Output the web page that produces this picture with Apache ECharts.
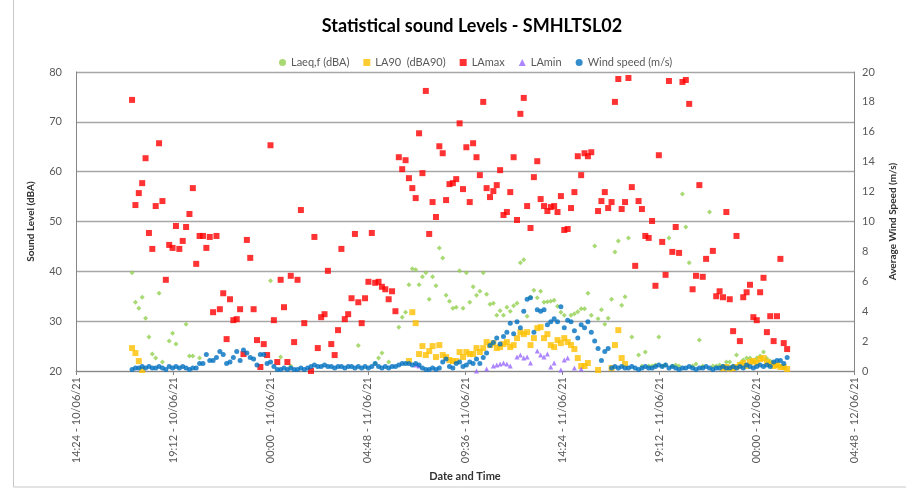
<!DOCTYPE html>
<html><head><meta charset="utf-8">
<script src="https://cdn.jsdelivr.net/npm/echarts@6/dist/echarts.min.js"></script>
<style>html,body{margin:0;padding:0;background:#fff}#c{width:906px;height:489px}</style>
</head><body><div id="c"></div>
<script>
const _ = null;
// sampling grid: first reading 17:10 on 10/06/21, every 10 minutes
const firstReading = [2021, 5, 10, 17, 10];
const stepMinutes = 10;
// x axis runs 14:24 10/06/21 -> 04:48 12/06/21, tick every 4h48
const axisStart = [2021, 5, 10, 14, 24];
const axisSpanHours = 38.4;
const axisTickHours = 4.8;

const seriesNames = ['Laeq,f (dBA)', 'LA90  (dBA90)', 'LAmax', 'LAmin', 'Wind speed (m/s)'];

const laeq = [
39.7,33.8,32.6,34.8,30.6,26.8,23.4,22.6,35.6,21.8,
_,26.0,27.6,25.4,_,_,29.4,23.0,23.0,_,
22.6,_,_,_,_,_,_,_,_,_,
_,_,_,_,_,_,_,_,_,_,
_,38.1,_,_,22.8,_,_,21.0,_,_,
_,_,_,_,_,_,_,_,_,_,
_,_,_,_,_,_,_,25.1,_,_,
_,_,21.5,22.6,23.6,_,21.8,_,_,28.8,
30.8,31.8,37.3,40.5,40.3,37.3,38.9,39.7,34.4,38.9,
37.1,44.7,42.7,35.2,34.0,32.6,32.8,40.1,32.6,39.7,
33.8,36.9,35.2,36.0,39.7,35.4,33.4,33.6,31.2,32.1,
31.2,32.8,32.0,33.1,33.6,41.7,42.3,31.0,34.8,36.2,
34.7,36.0,33.8,33.9,34.0,34.2,33.0,31.8,31.2,_,
31.2,31.5,31.9,32.5,32.5,35.6,31.2,45.1,30.5,32.3,
29.4,30.6,34.4,43.9,46.1,33.2,34.9,46.7,26.8,_,
23.2,21.0,23.8,21.0,21.0,21.2,26.8,21.0,21.2,46.7,
21.0,21.2,21.0,55.5,48.9,41.7,21.0,21.4,26.2,21.0,
_,51.9,21.0,21.0,21.2,21.0,21.8,21.8,21.0,23.2,
21.5,22.2,22.6,22.6,22.0,22.6,23.0,23.8,22.5,22.0,
21.5,21.2,21.0,20.6
];

const la90 = [
24.6,23.6,22.0,20.2,_,_,_,_,_,_,
_,_,_,_,_,_,_,_,_,_,
_,_,_,_,_,_,_,_,_,_,
_,_,_,_,_,_,_,_,_,_,
_,_,_,_,_,_,_,_,_,_,
_,_,_,_,_,_,_,_,_,_,
_,_,_,_,_,_,_,_,_,_,
_,_,_,_,_,_,_,_,_,_,
_,_,22.0,31.8,29.6,23.4,25.0,23.2,24.0,25.0,
22.8,25.2,23.2,22.8,22.2,22.0,22.0,23.8,22.8,23.8,
23.4,23.4,24.6,23.8,24.6,25.8,25.2,25.6,24.6,24.8,
25.4,25.8,24.8,25.2,26.6,27.8,27.4,27.8,25.2,26.6,
28.6,28.8,26.6,27.4,25.2,24.8,26.2,25.6,26.6,25.8,
25.2,24.4,22.6,21.0,21.0,21.6,_,_,20.2,_,
_,_,20.6,25.2,28.2,22.6,21.4,_,_,_,
_,_,_,_,_,_,_,_,_,_,
_,_,_,_,_,_,_,_,_,_,
_,_,_,_,_,20.6,20.8,20.5,20.6,20.8,
21.2,21.6,21.0,21.8,22.0,21.6,22.4,22.6,21.8,21.4,
21.0,21.2,20.8,20.8,20.4
];

const lamax = [
74.4,53.3,55.7,57.7,62.7,47.7,44.5,53.1,65.7,54.1,
38.3,45.3,44.7,49.1,44.5,46.1,48.9,51.5,56.7,41.5,
47.1,47.1,44.7,46.9,31.8,47.1,32.4,35.6,26.4,34.4,
30.2,30.4,32.4,23.4,46.3,42.7,32.4,26.2,20.8,25.4,
23.2,65.3,30.2,21.8,38.3,32.8,21.8,39.1,25.8,38.3,
52.3,29.6,_,20.0,46.9,24.6,30.8,31.4,40.1,25.4,
23.2,28.2,44.5,30.4,31.4,34.6,47.5,33.8,29.6,34.6,
37.9,47.7,37.7,37.9,36.9,36.4,34.4,36.0,32.0,62.9,
60.5,62.3,58.7,56.7,54.7,67.7,59.7,76.2,47.5,53.9,
50.9,65.1,63.7,54.3,57.5,57.7,58.5,69.7,56.5,64.9,
53.9,65.7,62.9,59.3,74.0,56.7,54.9,56.1,57.3,60.3,
51.3,51.9,55.9,62.9,50.3,71.6,74.8,53.1,48.7,58.9,
62.1,54.5,53.1,52.1,52.9,53.1,51.9,55.1,48.3,48.5,
52.7,55.9,63.1,59.3,63.7,63.1,63.9,_,52.1,54.1,
55.9,52.7,53.9,74.0,78.6,52.5,53.9,78.8,56.9,41.1,
54.1,52.5,47.1,46.7,50.1,37.1,63.3,45.9,39.3,78.2,
43.9,48.9,43.7,78.0,78.4,73.6,36.4,39.1,57.3,38.9,
42.5,_,44.1,35.0,36.0,34.8,51.9,34.4,28.0,47.1,
26.0,34.8,35.8,37.3,30.8,30.2,35.8,38.7,27.8,31.0,
26.0,31.0,42.5,25.6,24.4
];

const lamin = [
_,_,_,_,_,_,_,_,_,_,
_,_,_,_,_,_,_,_,_,_,
_,_,_,_,_,_,_,_,_,_,
_,_,_,_,_,_,_,_,_,_,
_,_,_,_,_,_,_,_,_,_,
_,_,_,_,_,_,_,_,_,_,
_,_,_,_,_,_,_,_,_,_,
_,_,_,_,_,_,_,_,_,_,
_,_,_,_,21.2,21.0,_,_,_,_,
_,_,_,_,_,_,_,_,_,_,
_,_,20.0,_,_,20.4,_,21.0,21.2,21.4,
21.6,21.4,21.0,_,22.8,23.2,22.6,22.8,21.6,_,
24.0,23.2,22.8,23.4,20.8,21.6,_,20.2,22.2,22.6,
_,20.6,_,20.4
];

const windSpeed = [
0.1,0.2,0.2,0.3,0.2,0.3,0.2,0.2,0.3,0.2,
0.1,0.3,0.2,0.3,0.2,0.3,0.2,0.1,0.2,0.2,
0.5,0.5,1.1,0.7,0.7,0.9,1.3,1.1,0.5,0.6,
0.9,1.3,0.7,1.4,1.2,0.9,0.8,0.4,1.1,1.1,
0.5,0.6,0.3,0.1,0.1,0.2,0.1,0.2,0.1,0.1,
0.2,0.1,0.2,0.3,0.4,0.3,0.3,0.4,0.3,0.3,
0.2,0.3,0.3,0.2,0.3,0.3,0.2,0.3,0.2,0.3,
0.2,0.3,0.5,0.3,0.2,0.3,0.2,0.3,0.3,0.4,
0.5,0.5,0.5,0.4,0.5,0.4,0.2,0.1,0.1,0.2,
0.1,0.2,0.6,0.8,0.3,0.2,0.5,0.6,0.3,0.4,
0.6,0.5,0.8,0.5,0.9,1.2,1.7,1.9,2.2,1.8,
2.3,2.6,3.2,2.5,3.3,2.9,4.0,4.8,4.9,2.6,
4.1,4.0,4.1,3.1,3.3,3.5,3.3,4.3,2.9,3.4,
3.3,2.7,2.2,3.1,2.9,3.3,2.6,2.0,1.5,0.7,
1.3,1.5,0.2,0.3,0.2,0.3,0.2,0.2,0.3,0.2,
0.1,0.2,0.3,0.2,0.2,0.3,0.4,0.3,0.4,0.2,
0.3,0.2,0.1,0.2,0.2,0.3,0.2,0.1,0.2,0.2,
0.3,0.2,0.1,0.2,0.2,0.3,0.2,0.2,0.3,0.2,
0.3,0.2,0.4,0.3,0.2,0.3,0.4,0.3,0.4,0.3,
0.6,0.7,0.7,0.5,0.9
];

const leftTicks = {min: 20, max: 80, step: 10};
const rightTicks = {min: 0, max: 20, step: 2};

// ---------------------------------------------------------------
const FF = 'Lato, "Liberation Sans", "DejaVu Sans", sans-serif';
const baseMs = Date.UTC(...axisStart);
const firstMs = Date.UTC(...firstReading);
function hoursOf(i) { return (firstMs - baseMs) / 3600000 + i * stepMinutes / 60; }
function pts(arr) {
  const out = [];
  arr.forEach((v, i) => { if (v !== null && v !== undefined) out.push([hoursOf(i), v]); });
  return out;
}
const p2 = n => String(n).padStart(2, '0');
function fmtTime(h) {
  const d = new Date(baseMs + Math.round(h * 60) * 60000);
  return p2(d.getUTCHours()) + ':' + p2(d.getUTCMinutes()) + ' - ' +
    p2(d.getUTCDate()) + '/' + p2(d.getUTCMonth() + 1) + '/' + String(d.getUTCFullYear()).slice(2);
}

const axisGrey = '#868686';
const chart = echarts.init(document.getElementById('c'), null, {renderer: 'canvas'});
chart.setOption({
  animation: false,
  backgroundColor: '#ffffff',
  textStyle: {fontFamily: FF},
  graphic: [{
    type: 'rect', silent: true, z: -10,
    shape: {x: 13.5, y: -2, width: 900, height: 489},
    style: {fill: 'none', stroke: '#c8c8c8', lineWidth: 1}
  }],
  title: {
    text: 'Statistical sound Levels - SMHLTSL02',
    left: 467, top: 12, textAlign: 'center',
    textStyle: {fontFamily: FF, fontSize: 18, fontWeight: 'bold', color: '#000'}
  },
  legend: {
    top: 52, left: 274, itemGap: 14, itemWidth: 7, itemHeight: 7,
    textStyle: {fontFamily: FF, fontSize: 11, color: '#595959'},
    data: [
      {name: seriesNames[0], icon: 'circle'},
      {name: seriesNames[1], icon: 'rect'},
      {name: seriesNames[2], icon: 'rect'},
      {name: seriesNames[3], icon: 'triangle'},
      {name: seriesNames[4], icon: 'circle'}
    ]
  },
  grid: {left: 76, right: 48, top: 72, bottom: 118},
  xAxis: {
    type: 'value', min: 0, max: axisSpanHours, interval: axisTickHours,
    name: 'Date and Time', nameLocation: 'middle', nameGap: 97,
    nameTextStyle: {fontFamily: FF, fontSize: 11, fontWeight: 'bold', color: '#333'},
    axisLine: {lineStyle: {color: axisGrey}},
    axisTick: {show: true, length: 4, lineStyle: {color: axisGrey}},
    splitLine: {show: false},
    axisLabel: {rotate: 90, margin: 6, fontSize: 11, color: '#595959', fontFamily: FF,
      formatter: v => fmtTime(v), showMinLabel: true, showMaxLabel: true}
  },
  yAxis: [{
    type: 'value', min: leftTicks.min, max: leftTicks.max, interval: leftTicks.step,
    name: 'Sound Level (dBA)', nameLocation: 'middle', nameGap: 40, nameRotate: 90,
    nameTextStyle: {fontFamily: FF, fontSize: 10, fontWeight: 'bold', color: '#333'},
    axisLine: {show: true, lineStyle: {color: axisGrey}},
    axisTick: {show: false},
    axisLabel: {fontSize: 11, color: '#595959', margin: 14, fontFamily: FF},
    splitLine: {show: true, lineStyle: {color: '#a6a6a6', width: 1.3}}
  }, {
    type: 'value', position: 'right', min: rightTicks.min, max: rightTicks.max, interval: rightTicks.step,
    name: 'Average Wind Speed (m/s)', nameLocation: 'middle', nameGap: 34, nameRotate: 90,
    nameTextStyle: {fontFamily: FF, fontSize: 10, fontWeight: 'bold', color: '#333'},
    axisLine: {show: true, lineStyle: {color: axisGrey}},
    axisTick: {show: false},
    axisLabel: {fontSize: 11, color: '#595959', margin: 8, fontFamily: FF},
    splitLine: {show: false}
  }],
  series: [
    {name: seriesNames[0], type: 'scatter', symbol: 'diamond', symbolSize: 5,
     itemStyle: {color: '#92d050'}, data: pts(laeq)},
    {name: seriesNames[1], type: 'scatter', symbol: 'rect', symbolSize: 6,
     itemStyle: {color: '#ffc000'}, data: pts(la90)},
    {name: seriesNames[2], type: 'scatter', symbol: 'rect', symbolSize: 6,
     itemStyle: {color: '#ff0000'}, data: pts(lamax)},
    {name: seriesNames[3], type: 'scatter', symbol: 'triangle', symbolSize: 5,
     itemStyle: {color: '#9966ff'}, data: pts(lamin)},
    {name: seriesNames[4], type: 'scatter', symbol: 'circle', symbolSize: 5, yAxisIndex: 1,
     itemStyle: {color: '#0070c0'}, data: pts(windSpeed)}
  ]
});
</script>
</body></html>
